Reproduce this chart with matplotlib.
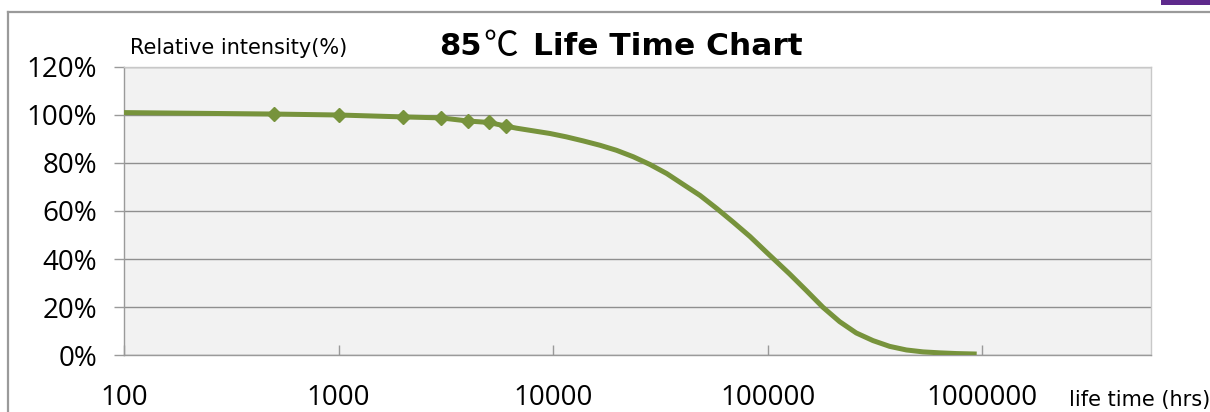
import matplotlib.pyplot as plt
from matplotlib.lines import Line2D
from matplotlib.patches import Rectangle
from matplotlib.ticker import FixedLocator, FuncFormatter, NullLocator

# life time (hrs) vs relative intensity (%)
hours = [100, 500, 1000, 2000, 3000, 4000, 5000, 6000, 6750, 8070, 9650,
         11500, 13800, 16500, 19700, 23600, 28200, 33800, 40300, 48300,
         57700, 68900, 82500, 98600, 126200, 151000, 180500, 216000,
         258000, 309000, 369500, 442000, 528400, 632000, 757000, 940000]
intensity = [101.0, 100.4, 100.0, 99.2, 98.8, 97.5, 96.9, 95.4, 94.5, 93.4, 92.3,
             90.9, 89.2, 87.4, 85.3, 82.6, 79.4, 75.6, 71.1, 66.5,
             61.1, 55.4, 49.4, 42.8, 33.8, 26.9, 19.9, 13.9,
             9.2, 6.0, 3.6, 2.1, 1.3, 0.9, 0.6, 0.4]

# measured points (drawn with markers)
meas_hours = [500, 1000, 2000, 3000, 4000, 5000, 6000]
meas_intensity = [100.4, 100.0, 99.2, 98.8, 97.5, 96.9, 95.4]

x_ticks = [100, 1000, 10000, 100000, 1000000]
y_ticks = [0, 20, 40, 60, 80, 100, 120]

green = '#77933c'
plt.rcParams['font.family'] = ['Open Sans', 'Noto Sans CJK KR', 'DejaVu Sans']

W, H = 1210, 412
fig = plt.figure(figsize=(W / 100, H / 100), dpi=100)
fig.patch.set_facecolor('white')

# outer chart frame (only top and left edges visible)
fig.add_artist(Line2D([8 / W, 1], [1 - 12 / H, 1 - 12 / H], color='#9a9a9a', lw=1.6))
fig.add_artist(Line2D([8 / W, 8 / W], [0, 1 - 12 / H], color='#9a9a9a', lw=1.6))
# purple strip in the top-right corner
fig.add_artist(Rectangle((1161 / W, 1 - 4.5 / H), 49 / W, 4.5 / H,
                         facecolor='#5e2a8c', edgecolor='none'))

ax = fig.add_axes([124 / W, 1 - 355 / H, (1151 - 124) / W, (355 - 67) / H])
ax.set_facecolor('#f2f2f2')

ax.plot(hours, intensity, color=green, lw=3.6, solid_capstyle='butt',
        solid_joinstyle='round', zorder=3)
ax.plot(meas_hours, meas_intensity, linestyle='none', marker='D', markersize=7.5,
        color=green, zorder=4)

ax.set_xscale('log')
ax.set_xlim(100, 6.1e6)
ax.set_ylim(0, 120)

ax.xaxis.set_major_locator(FixedLocator(x_ticks))
ax.xaxis.set_minor_locator(NullLocator())
ax.xaxis.set_major_formatter(FuncFormatter(lambda v, p: f'{int(round(v))}'))
ax.yaxis.set_major_locator(FixedLocator(y_ticks))
ax.yaxis.set_major_formatter(FuncFormatter(lambda v, p: f'{int(v)}%'))

ax.grid(axis='y', color='#8f8f8f', lw=1.0, zorder=1)
ax.set_axisbelow(True)

ax.tick_params(axis='x', direction='in', length=7, width=1, color='#9a9a9a',
               labelsize=20, pad=21)
ax.tick_params(axis='y', direction='out', length=7.5, width=1, color='#9a9a9a',
               labelsize=20, pad=12)

for side in ['left', 'bottom']:
    ax.spines[side].set_color('#9a9a9a')
    ax.spines[side].set_linewidth(1.0)
for side in ['top', 'right']:
    ax.spines[side].set_color('#c8c8c8')
    ax.spines[side].set_linewidth(1.0)

# axis captions
fig.text(130 / W, 1 - 54 / H, 'Relative intensity(%)', fontsize=15,
         family='DejaVu Sans', ha='left', va='baseline')
fig.text(1069 / W, 1 - 406 / H, 'life time (hrs)', fontsize=15,
         family='DejaVu Sans', ha='left', va='baseline')

# title, in pieces so the Celsius sign uses the CJK glyph
fig.text(482 / W, 1 - 55 / H, '85', fontsize=22, fontweight='bold',
         family='DejaVu Sans', ha='right', va='baseline')
fig.text(501 / W, 1 - 56 / H, '℃', fontsize=25,
         family=['Noto Sans CJK KR', 'DejaVu Sans'], ha='center', va='baseline')
fig.text(668 / W, 1 - 55 / H, 'Life Time Chart', fontsize=22.5, fontweight='bold',
         family='DejaVu Sans', ha='center', va='baseline')

plt.savefig('out.png', dpi=100)
